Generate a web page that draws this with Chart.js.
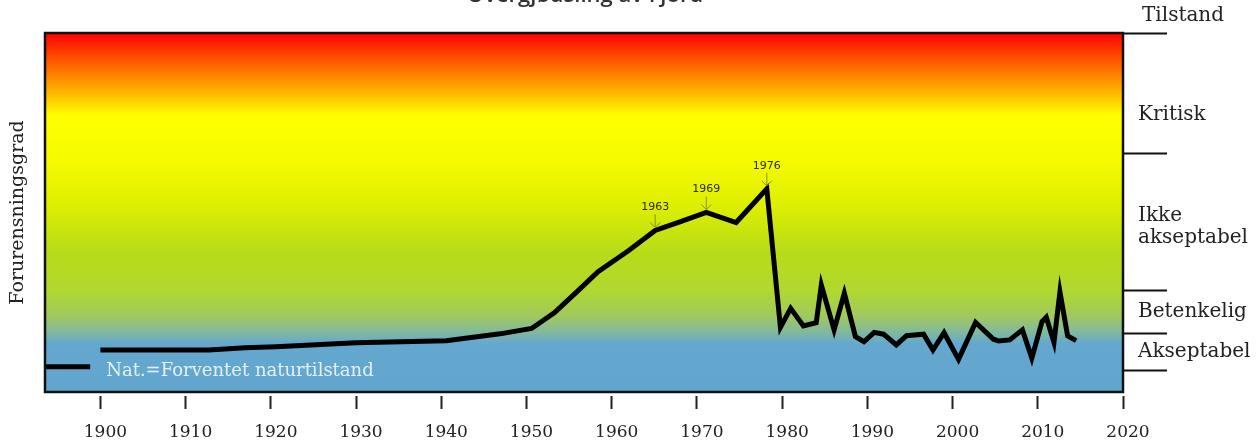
<!DOCTYPE html>
<html>
<head>
<meta charset="utf-8">
<script src="https://cdn.jsdelivr.net/npm/chart.js@4.4.1/dist/chart.umd.min.js"></script>
<style>
  html, body { margin: 0; padding: 0; background: #fff; }
  #wrap { width: 1259px; height: 445px; position: relative; }
</style>
</head>
<body>
<div id="wrap"><canvas id="chart"></canvas></div>
<script>
// pollution level (0 = bottom of the box, 100 = top)
const years = [1900.0, 1912.7, 1917.0, 1920.6, 1930.0, 1940.6, 1946.9, 1950.6, 1953.3, 1955.9,
  1958.4, 1962.0, 1965.1, 1968.0, 1971.1, 1974.6, 1978.2, 1979.8, 1981.0, 1982.5,
  1984.0, 1984.6, 1986.1, 1987.3, 1988.6, 1989.6, 1990.8, 1991.9, 1993.4, 1994.6,
  1996.6, 1997.7, 1999.0, 2000.7, 2002.7, 2004.8, 2005.4, 2006.7, 2008.2, 2009.3,
  2010.5, 2011.0, 2011.9, 2012.6, 2013.5, 2014.5];
const levels = [11.7, 11.7, 12.3, 12.6, 13.7, 14.3, 16.2, 17.7, 22.1, 27.9,
  33.5, 39.4, 45.0, 47.4, 50.0, 47.2, 56.6, 18.0, 23.3, 18.4,
  19.3, 29.8, 17.3, 27.5, 15.4, 14.0, 16.6, 16.1, 13.1, 15.7,
  16.1, 11.7, 16.5, 9.1, 19.4, 14.7, 14.2, 14.5, 17.3, 9.4,
  19.6, 20.8, 13.8, 27.9, 15.6, 14.3];

// expected natural state ("Nat.")
const natYears = [1893.5, 1898.8];
const natLevels = [7.0, 7.0];

const xTicks = [1900, 1910, 1920, 1930, 1940, 1950, 1960, 1970, 1980, 1990, 2000, 2010, 2020];

// class limits on the right side and the class names between them
const classBounds = [5.85, 16.16, 28.27, 66.57, 100];
const classLabelAt = [11.1, 22.3, 46.0, 77.2];
const classNames = ['Akseptabel', 'Betenkelig', ['Ikke', 'akseptabel'], 'Kritisk'];

// marked years on the curve
const markedIdx = [12, 14, 16];
const markedYears = ['1963', '1969', '1976'];

const serif = 'DejaVu Serif';

const backdrop = {
  id: 'backdrop',
  beforeDraw(chart) {
    const {ctx, chartArea: a} = chart;
    const g = ctx.createLinearGradient(0, a.top, 0, a.bottom);
    g.addColorStop(0.0, '#ff0000');
    g.addColorStop(0.08, '#ff5a00');
    g.addColorStop(0.16, '#ffb000');
    g.addColorStop(0.23, '#ffff00');
    g.addColorStop(0.36, '#f5fa00');
    g.addColorStop(0.47, '#e0f000');
    g.addColorStop(0.61, '#b8dc18');
    g.addColorStop(0.72, '#b0d830');
    g.addColorStop(0.79, '#a0c860');
    g.addColorStop(0.835, '#80b8a0');
    g.addColorStop(0.865, '#64a8d0');
    g.addColorStop(1.0, '#62a6cf');
    ctx.save();
    ctx.fillStyle = g;
    ctx.fillRect(a.left, a.top, a.right - a.left, a.bottom - a.top);
    ctx.restore();
  },
  afterDatasetsDraw(chart) {
    const {ctx, chartArea: a, scales} = chart;
    ctx.save();
    // box border
    ctx.strokeStyle = '#111';
    ctx.lineWidth = 2.5;
    ctx.strokeRect(a.left, a.top, a.right - a.left, a.bottom - a.top);

    // year marks with arrows
    const meta = chart.getDatasetMeta(0);
    ctx.font = '11px "DejaVu Sans"';
    ctx.textAlign = 'center';
    ctx.textBaseline = 'middle';
    markedIdx.forEach((idx, k) => {
      const p = meta.data[idx];
      ctx.strokeStyle = '#8f8f1a';
      ctx.lineWidth = 1;
      ctx.beginPath();
      ctx.moveTo(p.x, p.y - 16);
      ctx.lineTo(p.x, p.y - 3);
      ctx.moveTo(p.x - 5, p.y - 8);
      ctx.lineTo(p.x, p.y - 3);
      ctx.lineTo(p.x + 5, p.y - 8);
      ctx.stroke();
      ctx.fillStyle = '#2b2b14';
      ctx.fillText(markedYears[k], p.x, p.y - 23);
    });

    // natural state text
    ctx.font = '18px "' + serif + '"';
    ctx.textAlign = 'left';
    ctx.fillStyle = 'rgba(240,246,248,0.92)';
    ctx.fillText('Nat.=Forventet naturtilstand',
      scales.x.getPixelForValue(natYears[1]) + 16, scales.y.getPixelForValue(natLevels[0]) + 4);
    ctx.restore();
  },
  afterDraw(chart) {
    const {ctx, chartArea: a} = chart;
    ctx.save();
    ctx.fillStyle = '#222';
    ctx.font = '20px "' + serif + '"';
    ctx.textAlign = 'left';
    ctx.textBaseline = 'middle';
    ctx.fillText('Tilstand', a.right + 19, a.top - 17);
    ctx.font = '600 22px "Open Sans"';
    ctx.fillStyle = '#333';
    ctx.textAlign = 'center';
    ctx.textBaseline = 'alphabetic';
    ctx.fillText('Overgjødsling av Fjord', 585, 2);
    ctx.restore();
  }
};

const ctx = document.getElementById('chart').getContext('2d');

const chart = new Chart(ctx, {
  type: 'line',
  data: {
    datasets: [{
      data: years.map((y, i) => ({x: y, y: levels[i]})),
      borderColor: '#000',
      borderWidth: 5,
      borderJoinStyle: 'miter',
      pointRadius: 0,
      tension: 0,
      yAxisID: 'y'
    }, {
      data: natYears.map((y, i) => ({x: y, y: natLevels[i]})),
      borderColor: '#000',
      borderWidth: 5,
      pointRadius: 0,
      tension: 0,
      yAxisID: 'y'
    }]
  },
  options: {
    responsive: true,
    maintainAspectRatio: false,
    animation: false,
    layout: { padding: { top: 33, left: 0, right: 0, bottom: 0 } },
    plugins: {
      legend: { display: false },
      tooltip: { enabled: false }
    },
    scales: {
      x: {
        type: 'linear',
        min: 1893.5,
        max: 2020,
        afterBuildTicks: s => { s.ticks = xTicks.map(v => ({value: v})); },
        afterFit: s => { s.height = 53; },
        border: { display: false },
        grid: {
          drawOnChartArea: false,
          drawTicks: true,
          tickLength: 18,
          tickColor: '#222',
          tickWidth: 2,
          tickBorderDash: [0, 4, 13, 30]
        },
        ticks: {
          autoSkip: false,
          maxRotation: 0,
          padding: 12,
          labelOffset: 5,
          color: '#222',
          font: { family: serif, size: 17 },
          callback: v => String(v)
        }
      },
      y: {
        type: 'linear',
        position: 'left',
        min: 0,
        max: 100,
        afterFit: s => { s.width = 45; },
        border: { display: false },
        grid: { display: false },
        ticks: { display: false },
        title: {
          display: true,
          text: 'Forurensningsgrad',
          color: '#222',
          font: { family: serif, size: 19 },
          padding: { top: 7, bottom: 0 }
        }
      },
      y2: {
        type: 'linear',
        position: 'right',
        min: 0,
        max: 100,
        afterBuildTicks: s => {
          s.ticks = classBounds.concat(classLabelAt).sort((p, q) => p - q).map(v => ({value: v}));
        },
        afterFit: s => { s.width = 136; },
        border: { display: false },
        grid: {
          drawOnChartArea: false,
          drawTicks: true,
          tickLength: 44,
          tickWidth: 2,
          tickColor: c => classBounds.includes(c.tick.value) ? '#111' : 'rgba(0,0,0,0)'
        },
        ticks: {
          autoSkip: false,
          padding: -29,
          color: '#222',
          font: { family: serif, size: 20, lineHeight: 1.1 },
          callback: v => {
            const k = classLabelAt.indexOf(v);
            return k >= 0 ? classNames[k] : '';
          }
        }
      }
    }
  },
  plugins: [backdrop]
});
</script>
</body>
</html>
